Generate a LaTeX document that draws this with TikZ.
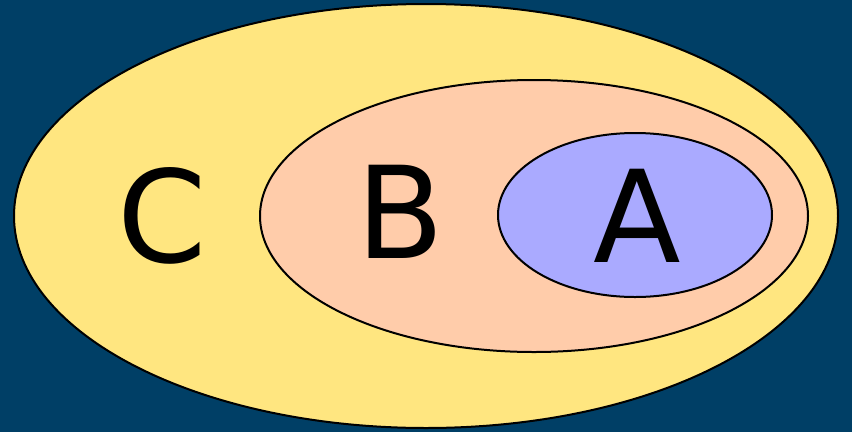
\documentclass[tikz,border=0pt]{standalone}
\usepackage{fontspec}
\setmainfont{DejaVu Sans}
\definecolor{bg}{HTML}{003F66}
\definecolor{cyel}{HTML}{FFE680}
\definecolor{bsal}{HTML}{FFCCAA}
\definecolor{ablu}{HTML}{AAAAFF}
\tikzset{setell/.style={draw=black,line width=2pt},
 lbl/.style={anchor=base,inner sep=0pt,font=\fontsize{128}{128}\selectfont}}
\begin{document}
\begin{tikzpicture}[x=1pt,y=-1pt]
\fill[bg] (0,0) rectangle (852,432);
\useasboundingbox (0,0) rectangle (852,432);
\draw[setell,fill=cyel] (426,216) ellipse [x radius=412,y radius=212];
\draw[setell,fill=bsal] (534,216) ellipse [x radius=274,y radius=136];
\draw[setell,fill=ablu] (635,215) ellipse [x radius=137,y radius=82];
\node[lbl] (c) at (162,262) {C};
\node[lbl] (b) at (400,258) {B};
\node[lbl] (a) at (637,262) {A};
\end{tikzpicture}
\end{document}
